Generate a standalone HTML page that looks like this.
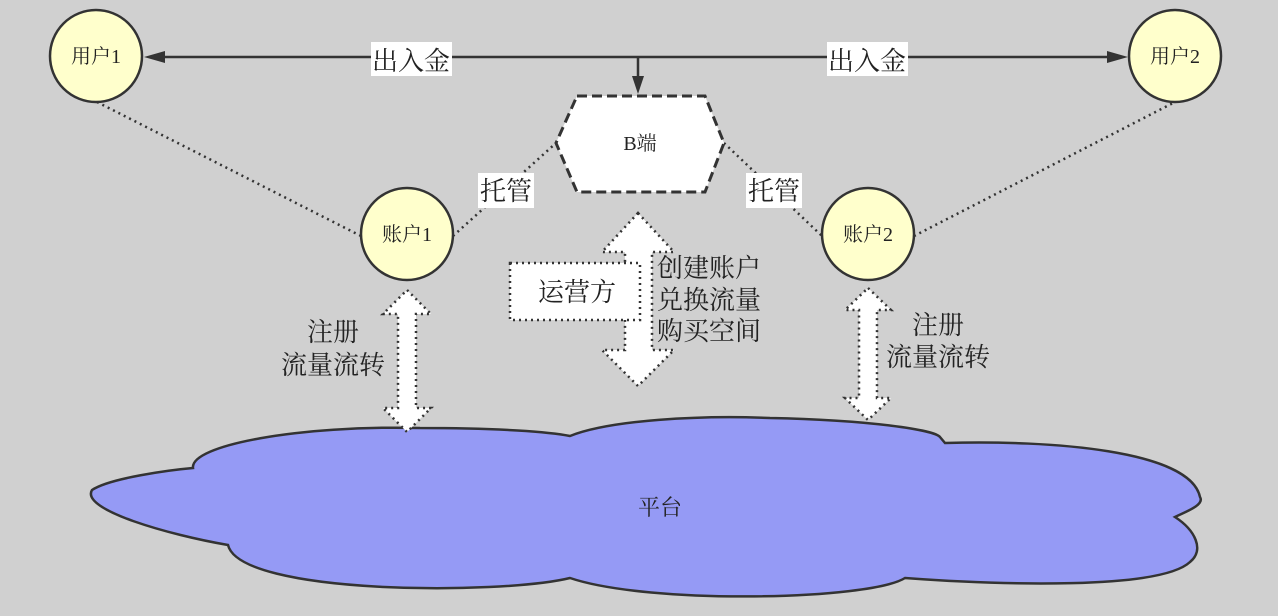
<!DOCTYPE html>
<html><head><meta charset="utf-8"><style>
body{margin:0;background:#d0d0d0;}
svg{display:block}
text{font-family:"Liberation Serif","Noto Serif CJK SC",serif;fill:#222;}
</style></head><body>
<svg width="1278" height="616" viewBox="0 0 1278 616" xmlns="http://www.w3.org/2000/svg">
<rect width="1278" height="616" fill="#d0d0d0"/>
<path d="M193,468 C190,445 300,425 420,428 C500,428 550,432 570,436 C610,420 700,415 770,418 C870,420 935,430 940,437 L945,443 C1050,440 1190,450 1200,497 C1205,505 1185,512 1175,517 C1195,530 1205,550 1190,562 C1160,590 1000,585 905,578 C870,600 650,605 570,578 C500,595 240,595 228,545 C170,535 80,510 92,490 C110,478 170,470 193,468 Z" fill="#959af5" stroke="#333" stroke-width="2.5"/>
<text x="660" y="515" font-size="22" text-anchor="middle">平台</text>
<line x1="150" y1="57" x2="1122" y2="57" stroke="#333" stroke-width="2.5"/>
<polygon points="144,57 165,51 165,63" fill="#333"/>
<polygon points="1128,57 1107,51 1107,63" fill="#333"/>
<line x1="638" y1="57" x2="638" y2="80" stroke="#333" stroke-width="2.5"/>
<polygon points="638,94 632,76 644,76" fill="#333"/>
<rect x="371" y="42" width="81" height="34" fill="#fff"/>
<text x="411" y="70" font-size="26" text-anchor="middle">出入金</text>
<rect x="827" y="42" width="81" height="34" fill="#fff"/>
<text x="867" y="70" font-size="26" text-anchor="middle">出入金</text>
<g stroke="#333" stroke-width="2.5" stroke-dasharray="2,4" fill="none">
<line x1="97" y1="102" x2="361" y2="236"/>
<line x1="453" y1="236" x2="556" y2="143"/>
<line x1="724" y1="143" x2="822" y2="236"/>
<line x1="914" y1="236" x2="1175" y2="102"/>
</g>
<rect x="478" y="173" width="56" height="35" fill="#fff"/>
<text x="506" y="200" font-size="26" text-anchor="middle">托管</text>
<rect x="746" y="173" width="56" height="35" fill="#fff"/>
<text x="774" y="200" font-size="26" text-anchor="middle">托管</text>
<g fill="#ffffcc" stroke="#333" stroke-width="2.5">
<circle cx="96" cy="56" r="46"/>
<circle cx="1175" cy="56" r="46"/>
<circle cx="407" cy="234" r="46"/>
<circle cx="868" cy="234" r="46"/>
</g>
<text x="96" y="63" font-size="20" text-anchor="middle">用户1</text>
<text x="1175" y="63" font-size="20" text-anchor="middle">用户2</text>
<text x="407" y="241" font-size="20" text-anchor="middle">账户1</text>
<text x="868" y="241" font-size="20" text-anchor="middle">账户2</text>
<polygon points="577,96 705,96 724,143 705,192 577,192 556,143" fill="#fff" stroke="#333" stroke-width="3" stroke-dasharray="10,5"/>
<text x="640" y="150" font-size="20" text-anchor="middle">B端</text>
<g fill="#fff" stroke="#333" stroke-width="2.5" stroke-dasharray="2,4">
<polygon points="407,290 431,314 416,314 416,408 431,408 407,432 383,408 398,408 398,314 383,314"/>
<polygon points="868,288 891,310 877,310 877,398 891,398 868,420 845,398 859,398 859,310 845,310"/>
<polygon points="638,213 674,252 652,252 652,350 674,350 638,386 602,350 625,350 625,252 602,252"/>
<rect x="510" y="263" width="130" height="57"/>
</g>
<text x="577" y="301" font-size="26" text-anchor="middle">运营方</text>
<g font-size="26">
<text x="657" y="277">创建账户</text>
<text x="657" y="309">兑换流量</text>
<text x="657" y="340">购买空间</text>
<text x="333" y="341" text-anchor="middle">注册</text>
<text x="333" y="374" text-anchor="middle">流量流转</text>
<text x="938" y="334" text-anchor="middle">注册</text>
<text x="938" y="366" text-anchor="middle">流量流转</text>
</g>
</svg>
</body></html>
